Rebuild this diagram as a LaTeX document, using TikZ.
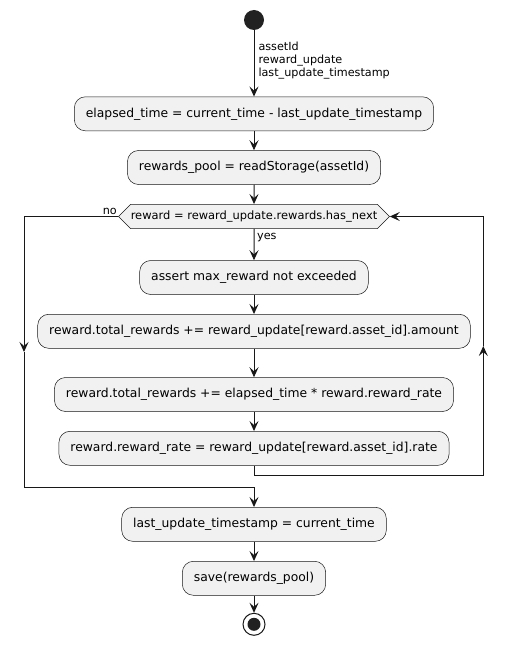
\documentclass[tikz,border=0pt]{standalone}
\usepackage{xcolor}
\usepackage{fontspec}
\setmainfont{DejaVu Sans}
\usepackage{tikz}
\usetikzlibrary{arrows.meta}
\usetikzlibrary{shapes}
\usetikzlibrary{shapes.symbols}
\definecolor{umlline}{HTML}{181818}
\definecolor{umlfill}{HTML}{F1F1F1}
\definecolor{umldot}{HTML}{222222}
\tikzset{>={Stealth[length=10pt,width=9pt,inset=4pt]}}
\tikzstyle{act} = [rectangle, rounded corners=11pt, draw=umlline, line width=.5pt, fill=umlfill, minimum height=34pt, inner xsep=11.5pt, font=\fontsize{12.35}{14}\selectfont]
\tikzstyle{cond} = [signal, signal to=east and west, signal pointer angle=90, draw=umlline, line width=.5pt, fill=umlfill, minimum height=24.4pt, inner xsep=0pt, inner ysep=0pt, font=\fontsize{11.45}{13}\selectfont]
\tikzstyle{flow} = [->, draw=umlline, line width=1pt]
\tikzstyle{lbl} = [font=\fontsize{11.2}{13.3}\selectfont, inner sep=1pt]

\begin{document}
\begin{tikzpicture}[x=1pt, y=-1pt]
\useasboundingbox (0,0) rectangle (508,647);
\node [circle, fill=umldot, minimum size=20pt, inner sep=0pt] (start) at (254,20) {};
\node [act] (b1) at (254,113.8) {elapsed\_time = current\_time - last\_update\_timestamp};
\node [act] (b2) at (254,167.5) {rewards\_pool = readStorage(assetId)};
\node [cond] (dec) at (254,216.5) {reward = reward\_update.rewards.has\_next};
\node [act] (b3) at (254,277.5) {assert max\_reward not exceeded};
\node [act] (b4) at (254,331.3) {reward.total\_rewards += reward\_update[reward.asset\_id].amount};
\node [act] (b5) at (254,394.5) {reward.total\_rewards += elapsed\_time * reward.reward\_rate};
\node [act] (b6) at (254,448.3) {reward.reward\_rate = reward\_update[reward.asset\_id].rate};
\node [act] (b7) at (254,524.3) {last\_update\_timestamp = current\_time};
\node [act] (b8) at (254,578.3) {save(rewards\_pool)};
\node [circle, draw=umlline, line width=1pt, fill=white, minimum size=22pt, inner sep=0pt,
  path picture={\fill [umldot] (path picture bounding box.center) circle (6.5pt);}] (stop) at (254,624.3) {};
% loop corners
\coordinate (rb) at (483.3,475.3);
\coordinate (rmid) at (483.3,346);
\coordinate (lmid) at (24,352);
\coordinate (join) at (254,487.3);

\draw [flow] (start) -- node [lbl, pos=.15, anchor=north west, align=left, xshift=3pt] {assetId\\reward\_update\\last\_update\_timestamp} (b1);
\draw [flow] (b1) -- (b2);
\draw [flow] (b2) -- (dec);
\draw [flow] (dec) -- node [lbl, pos=0, anchor=north west, xshift=1.7pt, yshift=-2.5pt] {yes} (b3);
\draw [flow] (b3) -- (b4);
\draw [flow] (b4) -- (b5);
\draw [flow] (b5) -- (b6);
\draw [flow] (b6.south) |- (rb) -- (rmid);
\draw [flow] (rmid) |- (dec.east);
\draw [flow] (dec.west) -| node [lbl, pos=0, anchor=south east] {no} (lmid);
\draw [flow] (lmid) |- (join) -- (b7);
\draw [flow] (b7) -- (b8);
\draw [flow] (b8) -- (stop);
\end{tikzpicture}
\end{document}
